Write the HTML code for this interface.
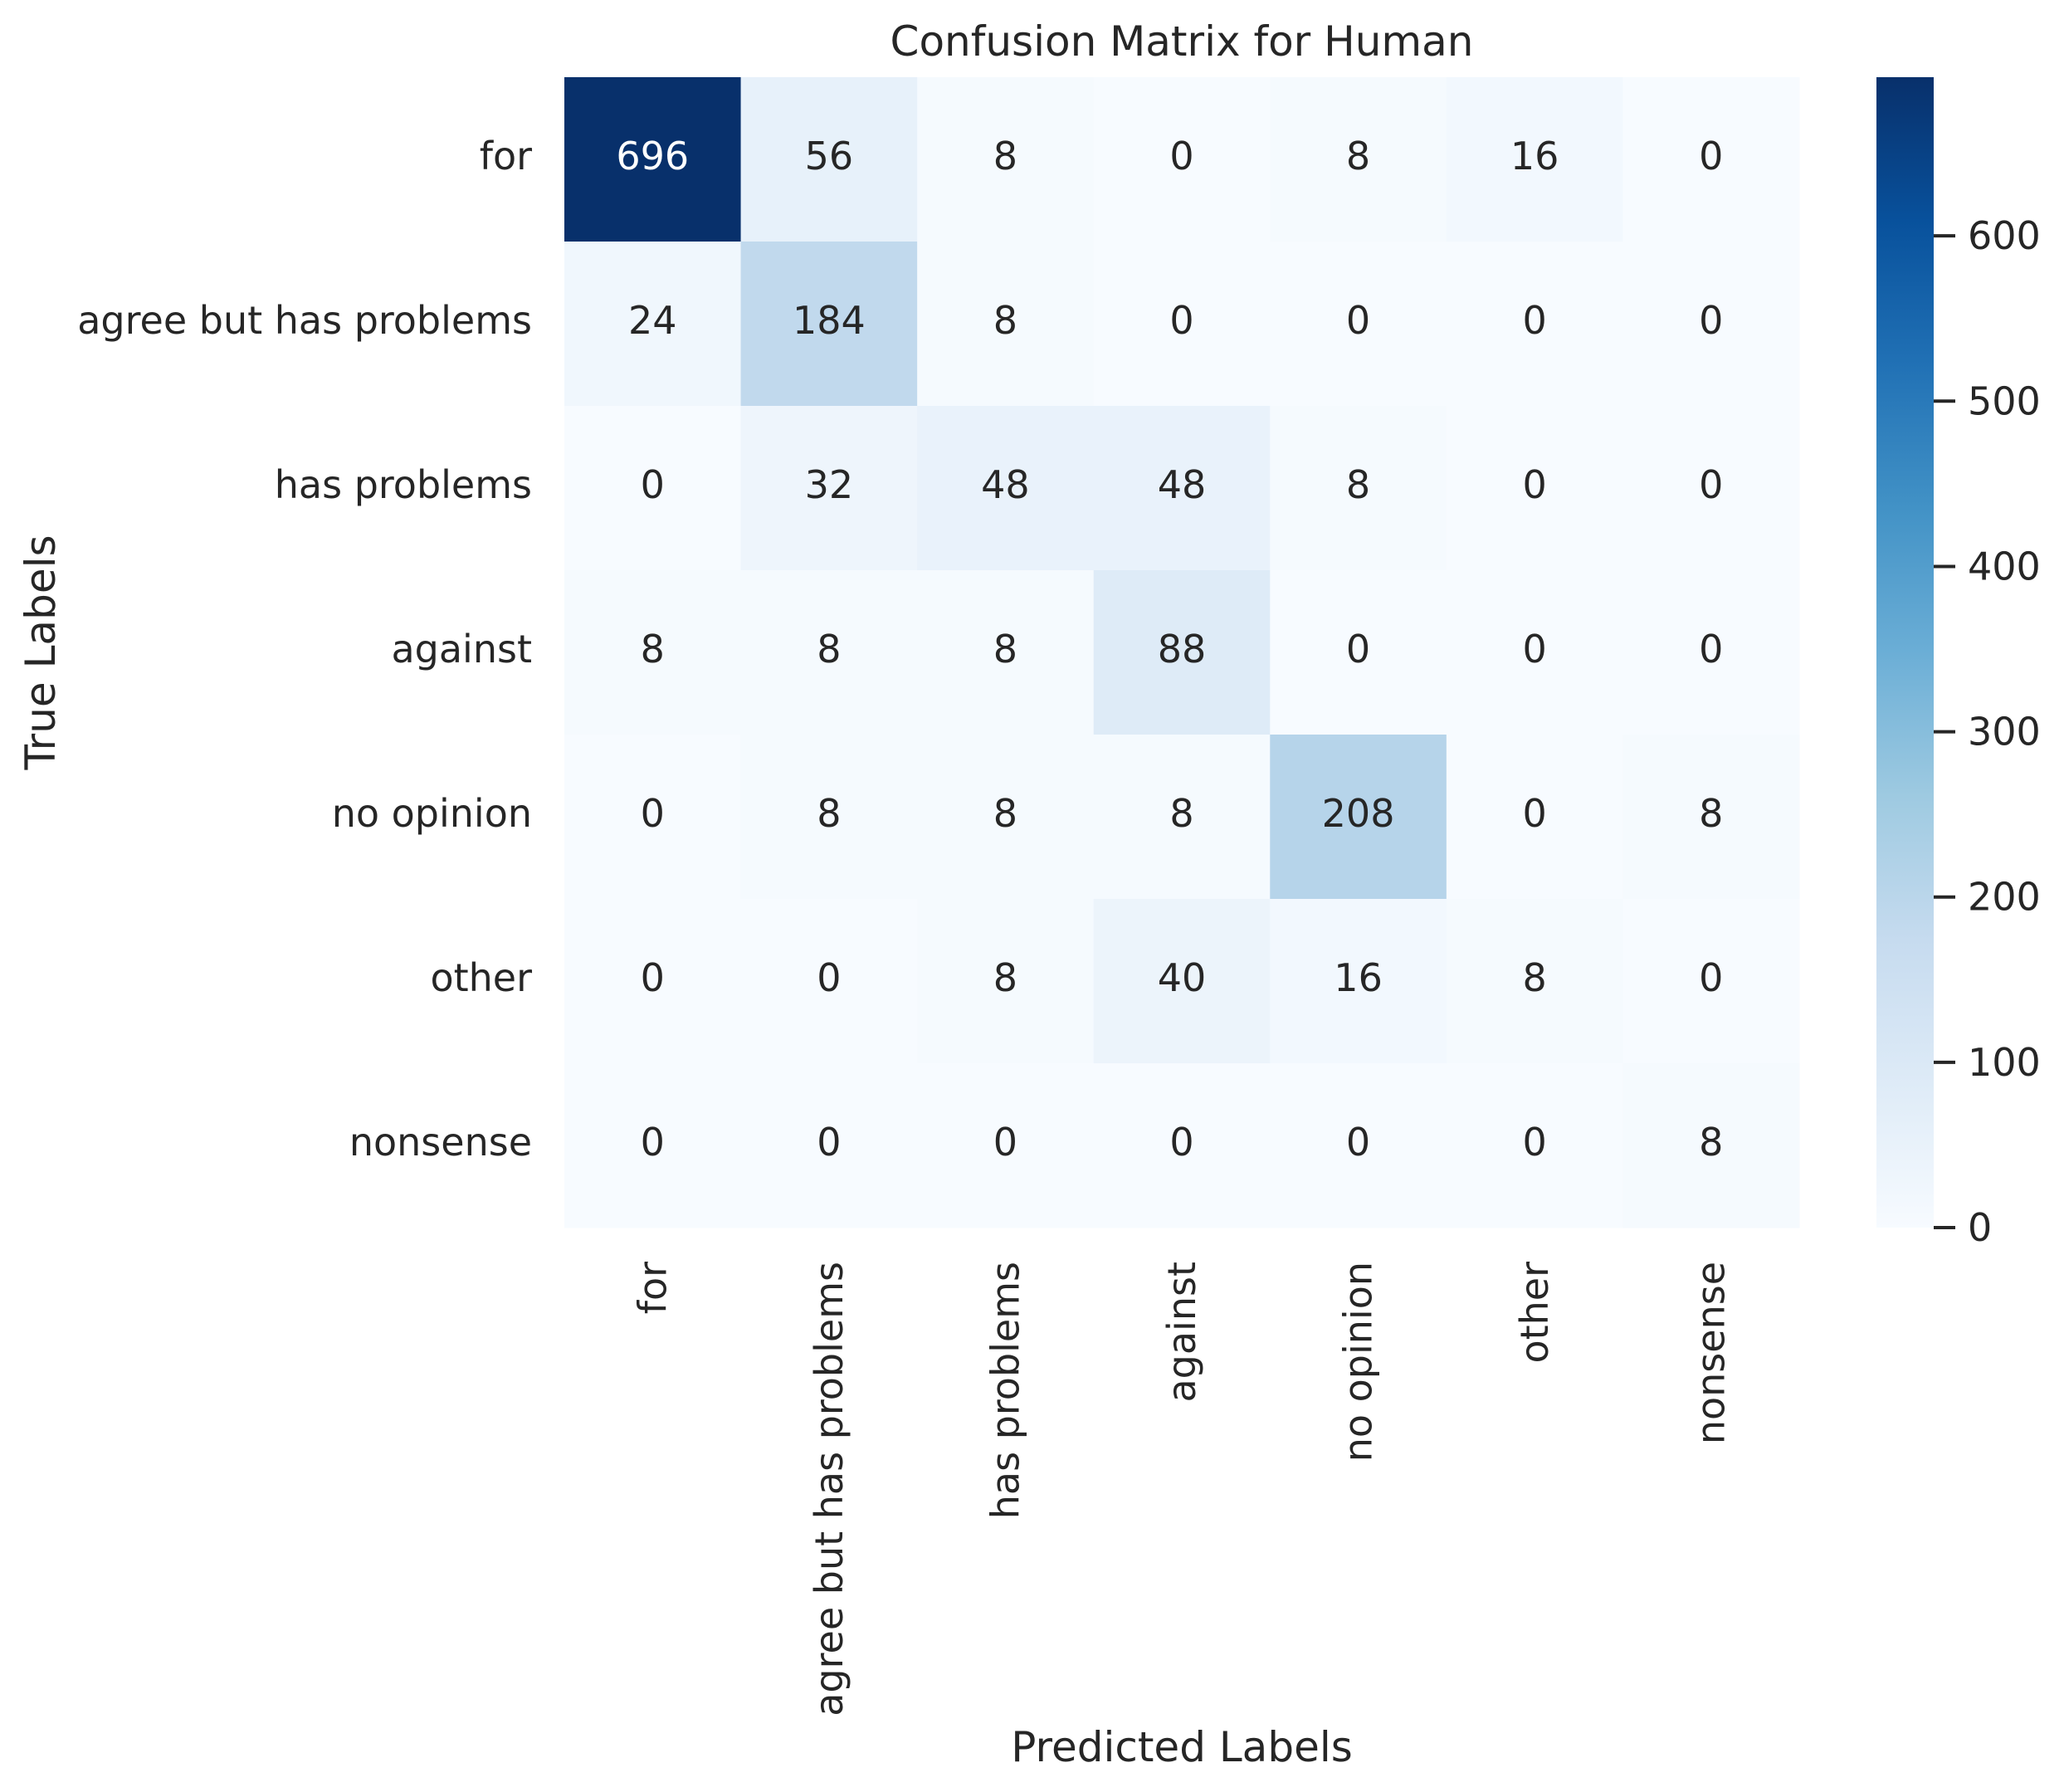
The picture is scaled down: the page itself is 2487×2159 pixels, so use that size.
<!DOCTYPE html>
<html><head><meta charset="utf-8"><style>
html,body{margin:0;padding:0;background:#fff;}
svg{display:block;font-family:"DejaVu Sans","Liberation Sans",sans-serif;}
</style></head><body>
<svg id="chart" width="2487" height="2159" viewBox="0 0 2487 2159" xmlns="http://www.w3.org/2000/svg">
<defs>
<linearGradient id="cbgrad" x1="0" y1="1" x2="0" y2="0">
<stop offset="0" stop-color="#f7fbff"/><stop offset="0.125" stop-color="#deebf7"/><stop offset="0.25" stop-color="#c6dbef"/><stop offset="0.375" stop-color="#9ecae1"/><stop offset="0.5" stop-color="#6baed6"/><stop offset="0.625" stop-color="#4292c6"/><stop offset="0.75" stop-color="#2171b5"/><stop offset="0.875" stop-color="#08519c"/><stop offset="1" stop-color="#08306b"/>
</linearGradient>
</defs>
<text x="1424" y="67" font-size="50" text-anchor="middle" fill="#262626">Confusion Matrix for Human</text>
<g id="cells"></g>
<g id="ylabels"></g>
<g id="xlabels"></g>
<text x="1424" y="2122" font-size="50" text-anchor="middle" fill="#262626">Predicted Labels</text>
<text transform="translate(66,786) rotate(-90)" font-size="50" text-anchor="middle" fill="#262626">True Labels</text>
<rect x="2261" y="93" width="69" height="1386" fill="url(#cbgrad)"/>
<g id="cbticks"></g>
</svg>
<script>
const categories = ["for","agree but has problems","has problems","against","no opinion","other","nonsense"];
const matrix = [
 [696,56,8,0,8,16,0],
 [24,184,8,0,0,0,0],
 [0,32,48,48,8,0,0],
 [8,8,8,88,0,0,0],
 [0,8,8,8,208,0,8],
 [0,0,8,40,16,8,0],
 [0,0,0,0,0,0,8]
];
const cbTicks = [0,100,200,300,400,500,600];
const vmax = 696;

const NS="http://www.w3.org/2000/svg";
const X0=680,X1=2168,Y0=93,Y1=1479;
const cw=(X1-X0)/categories.length, ch=(Y1-Y0)/categories.length;
const stops=["#f7fbff","#deebf7","#c6dbef","#9ecae1","#6baed6","#4292c6","#2171b5","#08519c","#08306b"].map(h=>[parseInt(h.slice(1,3),16),parseInt(h.slice(3,5),16),parseInt(h.slice(5,7),16)]);
function color(v){let t=Math.max(0,Math.min(1,v/vmax))*(stops.length-1);let i=Math.min(Math.floor(t),stops.length-2),f=t-i;
 const c=stops[i].map((a,k)=>Math.round(a+(stops[i+1][k]-a)*f));return c;}
function xs(j){return X0+j*cw;} function ys(i){return Y0+i*ch;}
function cbY(v){return Y1-(v/vmax)*(Y1-Y0);}
function mk(tag,attrs,parent,txt){const e=document.createElementNS(NS,tag);for(const k in attrs)e.setAttribute(k,attrs[k]);if(txt!==undefined)e.textContent=txt;parent.appendChild(e);return e;}
const cells=document.getElementById('cells');
matrix.forEach((row,i)=>row.forEach((v,j)=>{
 const c=color(v);
 const r=mk('rect',{x:xs(j),y:ys(i),width:cw+0.5,height:ch+0.5,fill:`rgb(${c[0]},${c[1]},${c[2]})`},cells);
 
 
 const lum=(0.2126*c[0]+0.7152*c[1]+0.0722*c[2])/255;
 const t=mk('text',{x:xs(j)+cw/2,y:ys(i)+ch/2+12,'font-size':46,'text-anchor':'middle',fill:lum<0.4?'#ffffff':'#262626'},cells,String(v));
 
 
}));
const yl=document.getElementById('ylabels'),xl=document.getElementById('xlabels');
categories.forEach((c,i)=>{
 const t=mk('text',{x:641,y:ys(i)+ch/2+12,'font-size':46,'text-anchor':'end',fill:'#262626'},yl,c);
 
 
 const cx=xs(i)+cw/2+16;
 const u=mk('text',{transform:`translate(${cx},1520) rotate(-90)`,'font-size':46,'text-anchor':'end',fill:'#262626'},xl,c);
 
 
});
const cb=document.getElementById('cbticks');
cbTicks.forEach(v=>{
 const y=cbY(v);
 const l=mk('line',{x1:2330,x2:2356,y1:y,y2:y,stroke:'#262626','stroke-width':4},cb);
 
 
 const t=mk('text',{x:2371,y:y+16,'font-size':46,fill:'#262626'},cb,String(v));
 
 
});
</script>
</body></html>
